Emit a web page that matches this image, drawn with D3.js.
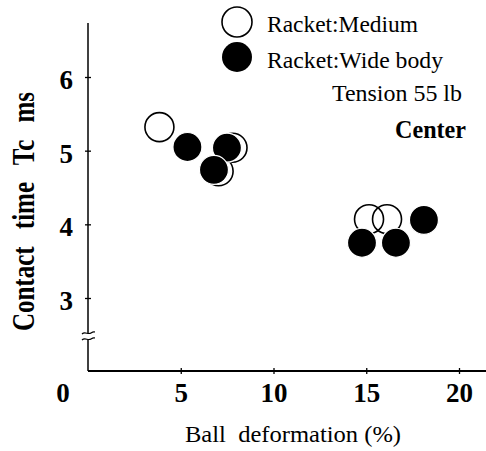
<!DOCTYPE html>
<html>
<head>
<meta charset="utf-8">
<script src="https://cdn.jsdelivr.net/npm/d3@7/dist/d3.min.js"></script>
<style>
  html, body { margin: 0; padding: 0; background: #fff; }
  svg { display: block; }
  text { font-family: "Liberation Serif", "Times New Roman", serif; fill: #000; }
</style>
</head>
<body>
<svg id="chart" width="486" height="451"></svg>
<script>
// ---- data ----
const seriesNames = ["Racket:Medium", "Racket:Wide body"];
const mediumX = [3.85, 7.79, 7.04, 15.15, 16.12];
const mediumY = [5.32, 5.04, 4.72, 4.07, 4.07];
const wideX = [5.36, 7.49, 6.79, 14.77, 16.6, 18.11];
const wideY = [5.05, 5.04, 4.74, 3.75, 3.75, 4.06];
const xTicks = [5, 10, 15, 20];
const yTicks = [3, 4, 5, 6];
const xLabel = "Ball  deformation (%)";
const yLabel = "Contact time Tc ms";
const note1 = "Tension 55 lb";
const note2 = "Center";

const svg = d3.select("#chart");

const x = d3.scaleLinear().domain([0, 20]).range([88, 459]);
const y = d3.scaleLinear().domain([3, 6]).range([298, 77]);
const axisY = 371;   // y-position of the x axis (broken origin)

// ---- axes lines ----
const g = svg.append("g");
g.append("line").attr("x1", 88).attr("x2", 486).attr("y1", axisY).attr("y2", axisY)
  .attr("stroke", "#000").attr("stroke-width", 1.8);
g.append("line").attr("x1", 88).attr("x2", 88).attr("y1", 23).attr("y2", 333)
  .attr("stroke", "#000").attr("stroke-width", 1.5);
g.append("line").attr("x1", 88).attr("x2", 88).attr("y1", 340).attr("y2", axisY)
  .attr("stroke", "#000").attr("stroke-width", 1.5);
[333, 339].forEach(by => {
  g.append("path")
    .attr("d", `M82,${by + 1} C85,${by - 2} 88,${by + 2} 91,${by} S94,${by - 1} 95,${by - 1}`)
    .attr("fill", "none").attr("stroke", "#000").attr("stroke-width", 1.2);
});

// x axis ticks/labels
const xAxis = svg.append("g").attr("transform", `translate(0,${axisY})`)
  .call(d3.axisBottom(x).tickValues(xTicks).tickSize(3).tickFormat(d3.format("d")));
xAxis.select(".domain").remove();
xAxis.selectAll(".tick line").attr("y1", -3).attr("y2", 3).attr("stroke-width", 1.3);
xAxis.selectAll(".tick text").attr("y", 31).attr("dy", 0)
  .style("font-family", "'Liberation Serif', serif").style("font-size", "27px")
  .style("font-weight", "bold").attr("fill", "#000");

// y axis ticks/labels
const yAxis = svg.append("g").attr("transform", "translate(88,0)")
  .call(d3.axisLeft(y).tickValues(yTicks).tickSize(3).tickFormat(d3.format("d")));
yAxis.select(".domain").remove();
yAxis.selectAll(".tick line").attr("x1", -3).attr("x2", 3).attr("stroke-width", 1.3);
yAxis.selectAll(".tick text").attr("x", -15).attr("dy", "0.42em")
  .style("font-family", "'Liberation Serif', serif").style("font-size", "27px")
  .style("font-weight", "bold").attr("fill", "#000");

// origin label
svg.append("text").attr("x", 63).attr("y", 402).attr("text-anchor", "middle")
  .style("font-size", "27px").style("font-weight", "bold").text("0");

// axis titles
svg.append("text").attr("x", 185).attr("y", 442)
  .attr("textLength", 216).attr("lengthAdjust", "spacingAndGlyphs")
  .style("font-size", "24px").style("white-space", "pre").text(xLabel);

svg.append("text")
  .attr("transform", "translate(34,211.5) scale(1.3,1) rotate(-90)")
  .attr("text-anchor", "middle")
  .style("font-size", "25px").style("font-weight", "bold").style("word-spacing", "11px")
  .text(yLabel);

// ---- data points ----
const r = 14.5;
const mediumPts = mediumX.map((v, i) => ({ x: v, y: mediumY[i] }));
const widePts = wideX.map((v, i) => ({ x: v, y: wideY[i] }));

svg.append("g").selectAll("circle").data(mediumPts).join("circle")
  .attr("cx", d => x(d.x)).attr("cy", d => y(d.y)).attr("r", r)
  .attr("fill", "none").attr("stroke", "#000").attr("stroke-width", 1.6);

svg.append("g").selectAll("circle").data(widePts).join("circle")
  .attr("cx", d => x(d.x)).attr("cy", d => y(d.y)).attr("r", r)
  .attr("fill", "#000").attr("stroke", "#fff").attr("stroke-width", 1.2);

// ---- legend ----
const leg = svg.append("g");
leg.append("circle").attr("cx", 237).attr("cy", 22).attr("r", 15)
  .attr("fill", "#fff").attr("stroke", "#000").attr("stroke-width", 1.6);
leg.append("circle").attr("cx", 237).attr("cy", 57).attr("r", 15)
  .attr("fill", "#000");
leg.append("text").attr("x", 267).attr("y", 32)
  .attr("textLength", 151).attr("lengthAdjust", "spacingAndGlyphs")
  .style("font-size", "24px").text(seriesNames[0]);
leg.append("text").attr("x", 267).attr("y", 68)
  .attr("textLength", 176).attr("lengthAdjust", "spacingAndGlyphs")
  .style("font-size", "24px").text(seriesNames[1]);
leg.append("text").attr("x", 332).attr("y", 101)
  .attr("textLength", 130).attr("lengthAdjust", "spacingAndGlyphs")
  .style("font-size", "23px").text(note1);
leg.append("text").attr("x", 395).attr("y", 138)
  .attr("textLength", 71).attr("lengthAdjust", "spacingAndGlyphs")
  .style("font-size", "25px").style("font-weight", "bold").text(note2);
</script>
</body>
</html>
